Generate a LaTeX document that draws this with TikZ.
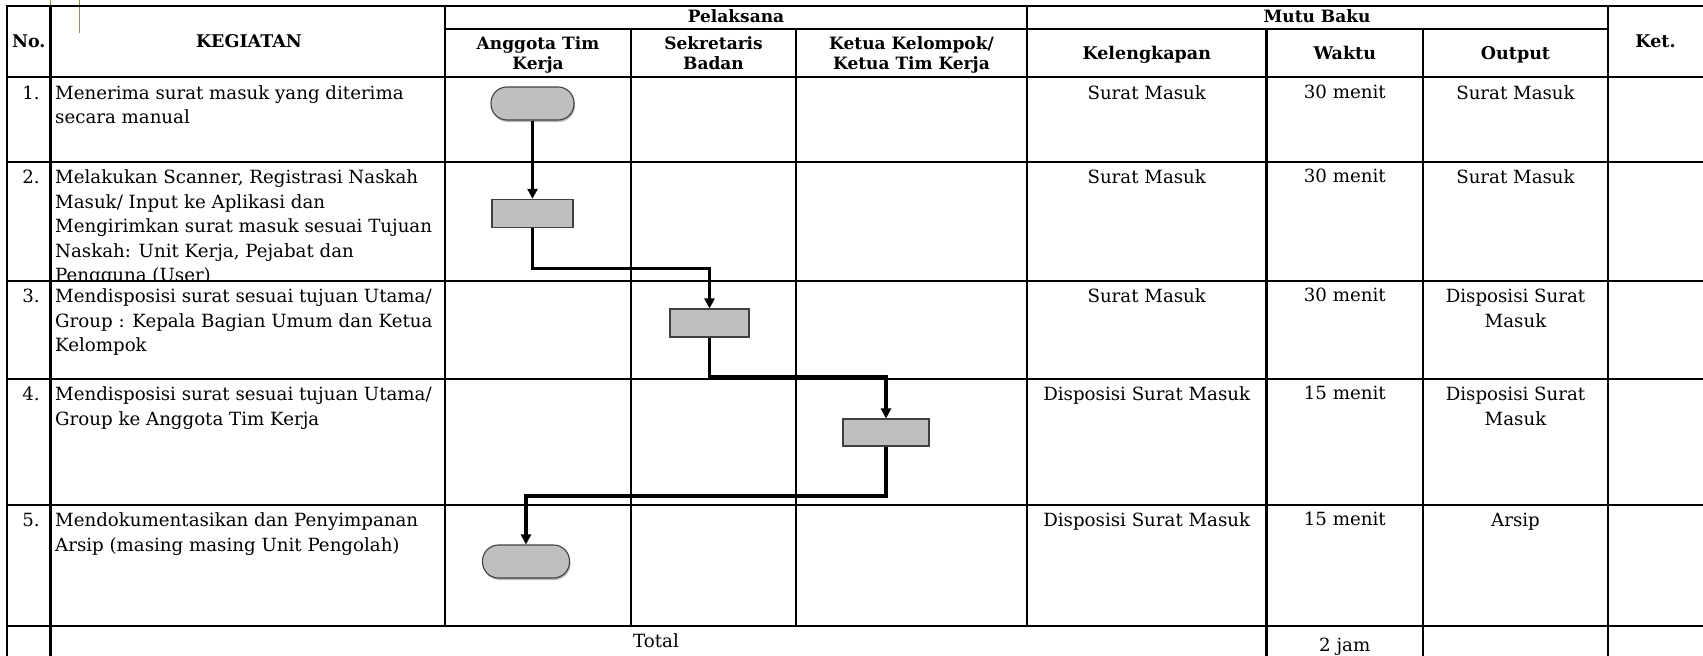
\documentclass[tikz,border=0pt]{standalone}
\usepackage{fontspec}
\setmainfont{DejaVu Serif}
\usetikzlibrary{arrows.meta,shadows}
\definecolor{boxgray}{RGB}{191,191,191}
\definecolor{boxedge}{RGB}{64,64,64}
\definecolor{olivemark}{RGB}{150,150,40}
\newcommand\bodyf{\fontsize{18.2}{24.5}\selectfont}
\newcommand\hdra{\fontsize{17.5}{20}\selectfont\bfseries}
\newcommand\hdrb{\fontsize{17}{20}\selectfont\bfseries}
\newcommand\bst{\rule{0pt}{15pt}}
\newcommand\hst{\rule{0pt}{14pt}}
\begin{document}
\begin{tikzpicture}[x=1pt,y=-1pt,
  grid/.style={line width=2.4pt,line cap=rect,black},
  flow/.style={line width=3.3pt,line join=miter,-{Triangle[width=10pt,length=10pt]}},
  proc/.style={draw=boxedge,fill=boxgray,line width=1.1pt,minimum width=81pt,minimum height=28pt,inner sep=0pt},
  term/.style={proc,rounded corners=16pt,minimum height=33pt,
    drop shadow={shadow xshift=1pt,shadow yshift=-2pt,fill=black!45,opacity=.6}},
  body/.style={font=\bodyf,inner sep=0pt},
  bodyl/.style={body,anchor=north west,align=left},
  bodyc/.style={body,anchor=north,align=center},
  num/.style={body,anchor=base},
  ha/.style={font=\hdra,inner sep=0pt,anchor=base},
  hbs/.style={font=\hdrb,inner sep=0pt,anchor=base},
  hb/.style={font=\hdrb,inner sep=0pt,anchor=north,align=center}]
\useasboundingbox (0,0) rectangle (1703,656);
% stray marks
\draw[olivemark,line width=1pt] (50,0) -- (50,23);
\draw[olivemark,line width=1pt] (79,0) -- (79,33);
% grid
\draw[grid] (7,6) -- (1703,6);
\draw[grid] (445,29) -- (1608,29);
\foreach \yy in {77,162,281,379,505,626} \draw[grid] (7,\yy) -- (1703,\yy);
\draw[grid] (7,6) -- (7,656);
\draw[grid] (50.5,6) -- (50.5,656);
\draw[grid] (445,6) -- (445,626);
\draw[grid] (631,29) -- (631,626);
\draw[grid] (796,29) -- (796,626);
\draw[grid] (1027,6) -- (1027,626);
\draw[grid] (1266.5,29) -- (1266.5,656);
\draw[grid] (1423,29) -- (1423,656);
\draw[grid] (1608,6) -- (1608,656);
% header
\node[ha] (hno) at (28.75,47.5) {No.};
\node[ha] (hkeg) at (249,47.5) {KEGIATAN};
\node[ha] (hket) at (1655.5,47.5) {Ket.};
\node[hbs] (hpel) at (736,22) {Pelaksana};
\node[hbs] (hmutu) at (1317,22) {Mutu Baku};
\node[hb] (hang) at (538,35) {\hst Anggota Tim\\Kerja};
\node[hb] (hsek) at (713.5,35) {\hst Sekretaris\\Badan};
\node[hb] (hketua) at (911.5,35) {\hst Ketua Kelompok/\\Ketua Tim Kerja};
\node[ha] (hkel) at (1146.75,59) {Kelengkapan};
\node[ha] (hwak) at (1344.75,59) {Waktu};
\node[ha] (hout) at (1515.5,59) {Output};
% numbers
\node[num] (n1) at (31,99) {1.};
\node[num] (n2) at (31,183.5) {2.};
\node[num] (n3) at (31,302.5) {3.};
\node[num] (n4) at (31,400.5) {4.};
\node[num] (n5) at (31,526.5) {5.};
% activities
\node[bodyl] (k1) at (55,84) {\bst Menerima surat masuk yang diterima\\secara manual};
\begin{scope}
\clip (51,162) rectangle (445,280.5);
\node[bodyl] (k2) at (55,168.5) {\bst Melakukan Scanner, Registrasi Naskah\\Masuk/ Input ke Aplikasi dan\\Mengirimkan surat masuk sesuai Tujuan\\Naskah: Unit Kerja, Pejabat dan\\Pengguna (User)};
\end{scope}
\node[bodyl] (k3) at (55,287.5) {\bst Mendisposisi surat sesuai tujuan Utama/\\Group : Kepala Bagian Umum dan Ketua\\Kelompok};
\node[bodyl] (k4) at (55,385.5) {\bst Mendisposisi surat sesuai tujuan Utama/\\Group ke Anggota Tim Kerja};
\node[bodyl] (k5) at (55,511.5) {\bst Mendokumentasikan dan Penyimpanan\\Arsip (masing masing Unit Pengolah)};
% mutu baku
\node[bodyc] (l1) at (1146.75,84) {\bst Surat Masuk};
\node[bodyc] (w1) at (1344.75,83) {\bst 30 menit};
\node[bodyc] (o1) at (1515.5,84) {\bst Surat Masuk};
\node[bodyc] (l2) at (1146.75,168.5) {\bst Surat Masuk};
\node[bodyc] (w2) at (1344.75,167.5) {\bst 30 menit};
\node[bodyc] (o2) at (1515.5,168.5) {\bst Surat Masuk};
\node[bodyc] (l3) at (1146.75,287.5) {\bst Surat Masuk};
\node[bodyc] (w3) at (1344.75,286.5) {\bst 30 menit};
\node[bodyc] (o3) at (1515.5,287.5) {\bst Disposisi Surat\\Masuk};
\node[bodyc] (l4) at (1146.75,385.5) {\bst Disposisi Surat Masuk};
\node[bodyc] (w4) at (1344.75,384.5) {\bst 15 menit};
\node[bodyc] (o4) at (1515.5,385.5) {\bst Disposisi Surat\\Masuk};
\node[bodyc] (l5) at (1146.75,511.5) {\bst Disposisi Surat Masuk};
\node[bodyc] (w5) at (1344.75,510.5) {\bst 15 menit};
\node[bodyc] (o5) at (1515.5,511.5) {\bst Arsip};
% total row
\node[num] (tot) at (656,647.5) {Total};
\node[num] (tjam) at (1344.75,651.5) {2 jam};
% flow shapes
\node[term,minimum width=83pt] (t1) at (532.5,103.5) {};
\node[proc,minimum width=81pt] (b2) at (532.5,213.3) {};
\node[proc,minimum width=79pt] (b3) at (709.5,323) {};
\node[proc,minimum width=86pt,minimum height=27pt] (b4) at (886,432.5) {};
\node[term,minimum width=87pt] (t5) at (526,561.5) {};
\coordinate (j1) at (0,268.3);
\coordinate (j2) at (0,376.7);
\coordinate (j3) at (0,496);
\draw[flow] (t1.south) -- (b2.north);
\draw[flow] (b2.south) -- (b2.south |- j1) -| (b3.north);
\draw[flow] (b3.south) -- (b3.south |- j2) -| (b4.north);
\draw[flow] (b4.south) -- (b4.south |- j3) -| (t5.north);
\end{tikzpicture}
\end{document}
